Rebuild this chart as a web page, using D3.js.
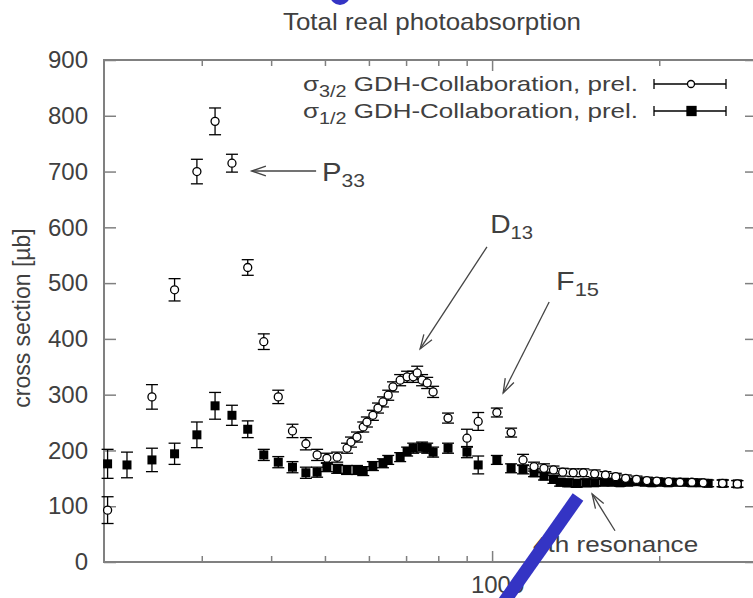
<!DOCTYPE html>
<html>
<head>
<meta charset="utf-8">
<script src="https://cdn.jsdelivr.net/npm/d3@7"></script>
<style>
  body { margin: 0; background: #fff; }
  svg { display: block; font-family: "Liberation Sans", Arial, sans-serif; }
</style>
</head>
<body>
<svg></svg>
<script>
// sigma 3/2 (open circles) - photon energy [MeV], cross section [ub], error
const energy32 = [203, 244, 268, 294, 317, 340, 363, 388, 412, 437, 462, 484, 504, 526, 548, 557, 571, 586, 595, 610,
  623, 636, 650, 663, 683, 703, 721, 733, 748, 764, 783, 833, 901, 944, 1020, 1082, 1137, 1190, 1240, 1290,
  1340, 1400, 1460, 1530, 1600, 1670, 1740, 1820, 1900, 1980, 2080, 2180, 2290, 2400, 2600, 2765];
const sigma32 = [93, 296, 488, 700, 790, 715, 528, 395, 296, 235, 212, 192, 186, 188, 204, 215, 224, 242, 251, 263,
  276, 287, 299, 314, 326, 332, 332, 339, 326, 321, 305, 258, 222, 252, 268, 232, 183, 171, 168, 165,
  161, 160, 160, 158, 156, 153, 150, 148, 146, 145, 144, 143, 143, 142, 141, 140];
const err32 = [24, 22, 20, 22, 24, 16, 14, 14, 12, 12, 11, 10, 9, 9, 9, 9, 9, 9, 9, 9,
  9, 9, 9, 9, 10, 10, 10, 12, 10, 10, 10, 9, 16, 16, 8, 8, 10, 8, 8, 7,
  7, 7, 7, 7, 6, 6, 6, 6, 6, 6, 6, 6, 6, 6, 6, 6];

// sigma 1/2 (filled squares)
const energy12 = [203, 220, 244, 268, 294, 317, 340, 363, 388, 412, 437, 462, 484, 504, 526, 548, 571, 586, 610, 636,
  650, 683, 703, 721, 748, 764, 783, 833, 901, 944, 1020, 1082, 1137, 1190, 1240, 1290, 1326, 1370, 1420, 1475,
  1530, 1590, 1645, 1700, 1760, 1820, 1880, 1940, 2010, 2075, 2145, 2220, 2290, 2370, 2450, 2605, 2765];
const sigma12 = [176, 174, 183, 194, 228, 280, 263, 238, 192, 179, 170, 160, 161, 170, 167, 165, 165, 163, 172, 177,
  183, 188, 198, 204, 206, 204, 197, 204, 197, 174, 183, 168, 166, 160, 154, 148, 143, 142, 141, 142,
  142, 143, 143, 142, 143, 144, 143, 142, 143, 142, 143, 143, 142, 142, 141, 141, 140];
const err12 = [26, 23, 21, 19, 23, 24, 18, 15, 10, 10, 10, 10, 9, 8, 8, 8, 8, 8, 8, 8,
  8, 8, 8, 9, 9, 9, 9, 9, 10, 16, 8, 8, 8, 7, 7, 7, 7, 7, 7, 7,
  6, 6, 6, 6, 6, 6, 6, 6, 6, 6, 6, 6, 6, 6, 6, 6, 6];

const yTicks = [0, 100, 200, 300, 400, 500, 600, 700, 800, 900];
const xMinorTicks = [300, 400, 500, 600, 700, 800, 900, 2000, 3000];
const xMajorTicks = [1000];

const width = 753;
const height = 598;
const plot = { left: 104, right: 757, top: 60, bottom: 562 };

const svg = d3.select("svg").attr("width", width).attr("height", height);

const xScale = d3.scaleLog().domain([200, 3000]).range([plot.left, plot.right]);
const yScale = d3.scaleLinear().domain([0, 900]).range([plot.bottom, plot.top]);

const points32 = energy32.map((e, i) => ({ e: e, v: sigma32[i], err: err32[i] }));
const points12 = energy12.map((e, i) => ({ e: e, v: sigma12[i], err: err12[i] }));

const textColor = "#404040";
const frameColor = "#808080";

function styleAxis(g) {
  g.select(".domain").remove();
  g.selectAll(".tick line").attr("stroke", frameColor).attr("stroke-width", 1.5);
  g.selectAll(".tick text").attr("fill", textColor).style("font-size", "24px")
    .style("font-family", "Liberation Sans, Arial, sans-serif");
}

function drawAxes() {
  svg.append("g")
    .attr("transform", `translate(${plot.left},0)`)
    .call(d3.axisLeft(yScale).tickValues(yTicks).tickSize(-12).tickPadding(16))
    .call(styleAxis);

  svg.append("g")
    .attr("transform", `translate(${plot.right},0)`)
    .call(d3.axisRight(yScale).tickValues(yTicks).tickSize(-12).tickFormat(""))
    .call(styleAxis);

  svg.append("g")
    .attr("transform", `translate(0,${plot.bottom})`)
    .call(d3.axisBottom(xScale).tickValues(xMinorTicks).tickSize(-6).tickFormat(""))
    .call(styleAxis);

  svg.append("g")
    .attr("transform", `translate(0,${plot.bottom})`)
    .call(d3.axisBottom(xScale).tickValues(xMajorTicks).tickSize(-11).tickPadding(14).tickFormat(d3.format("d")))
    .call(styleAxis)
    .selectAll(".tick text").attr("dx", 5);

  svg.append("g")
    .attr("transform", `translate(0,${plot.top})`)
    .call(d3.axisTop(xScale).tickValues(xMinorTicks).tickSize(-6).tickFormat(""))
    .call(styleAxis);

  svg.append("g")
    .attr("transform", `translate(0,${plot.top})`)
    .call(d3.axisTop(xScale).tickValues(xMajorTicks).tickSize(-11).tickFormat(""))
    .call(styleAxis);

  svg.append("rect")
    .attr("x", plot.left)
    .attr("y", plot.top)
    .attr("width", plot.right - plot.left)
    .attr("height", plot.bottom - plot.top)
    .attr("fill", "none")
    .attr("stroke", frameColor)
    .attr("stroke-width", 2);

  svg.append("text")
    .attr("x", 432)
    .attr("y", 30)
    .attr("text-anchor", "middle")
    .attr("fill", textColor)
    .attr("textLength", 298)
    .attr("lengthAdjust", "spacingAndGlyphs")
    .style("font-size", "24px")
    .text("Total real photoabsorption");

  svg.append("text")
    .attr("transform", "rotate(-90)")
    .attr("x", -318)
    .attr("y", 30)
    .attr("text-anchor", "middle")
    .attr("fill", textColor)
    .style("font-size", "23px")
    .text("cross section [\u00b5b]");
}

function drawErrorBars(data, cls) {
  const g = svg.append("g").attr("class", cls).attr("stroke", "#000").attr("stroke-width", 1.3);
  g.selectAll("line.bar")
    .data(data)
    .enter()
    .append("line")
    .attr("class", "bar")
    .attr("x1", (d) => xScale(d.e))
    .attr("x2", (d) => xScale(d.e))
    .attr("y1", (d) => yScale(d.v - d.err))
    .attr("y2", (d) => yScale(d.v + d.err));
  ["lo", "hi"].forEach((k) => {
    g.selectAll("line." + k)
      .data(data)
      .enter()
      .append("line")
      .attr("class", k)
      .attr("x1", (d) => xScale(d.e) - 6)
      .attr("x2", (d) => xScale(d.e) + 6)
      .attr("y1", (d) => yScale(k === "lo" ? d.v - d.err : d.v + d.err))
      .attr("y2", (d) => yScale(k === "lo" ? d.v - d.err : d.v + d.err));
  });
}

function drawPoints() {
  drawErrorBars(points12, "err12");
  drawErrorBars(points32, "err32");

  svg.append("g")
    .selectAll("rect")
    .data(points12)
    .enter()
    .append("rect")
    .attr("x", (d) => xScale(d.e) - 4.5)
    .attr("y", (d) => yScale(d.v) - 4.5)
    .attr("width", 9)
    .attr("height", 9)
    .attr("fill", "#000");

  svg.append("g")
    .selectAll("circle")
    .data(points32)
    .enter()
    .append("circle")
    .attr("cx", (d) => xScale(d.e))
    .attr("cy", (d) => yScale(d.v))
    .attr("r", 4)
    .attr("fill", "#fff")
    .attr("stroke", "#000")
    .attr("stroke-width", 1.3);
}

function drawLegend() {
  const rows = [
    { sub: "3/2", y: 84, filled: false },
    { sub: "1/2", y: 111, filled: true }
  ];
  rows.forEach((r) => {
    const t = svg.append("text")
      .attr("x", 638)
      .attr("y", r.y + 7)
      .attr("text-anchor", "end")
      .attr("fill", textColor)
      .attr("textLength", 335)
      .attr("lengthAdjust", "spacingAndGlyphs")
      .style("font-size", "21px");
    t.append("tspan").text("\u03c3");
    t.append("tspan").attr("dy", 6).style("font-size", "16px").text(r.sub);
    t.append("tspan").attr("dy", -6).text(" GDH-Collaboration, prel.");

    const g = svg.append("g").attr("stroke", "#000").attr("stroke-width", 1.3);
    g.append("line").attr("x1", 654).attr("x2", 726).attr("y1", r.y).attr("y2", r.y);
    g.append("line").attr("x1", 654).attr("x2", 654).attr("y1", r.y - 5).attr("y2", r.y + 5);
    g.append("line").attr("x1", 726).attr("x2", 726).attr("y1", r.y - 5).attr("y2", r.y + 5);
    if (r.filled) {
      g.append("rect").attr("x", 687).attr("y", r.y - 4.5).attr("width", 9).attr("height", 9).attr("fill", "#000");
    } else {
      g.append("circle").attr("cx", 691).attr("cy", r.y).attr("r", 3.5).attr("fill", "#fff");
    }
  });
}

// annotation anchors in data units
const labels = [
  { name: "P", sub: "33", e: 494, v: 683 },
  { name: "D", sub: "13", e: 992, v: 590 },
  { name: "F", sub: "15", e: 1304, v: 487 }
];
const arrows = [
  { e1: 482, v1: 701, e2: 369, v2: 701 },
  { e1: 979, v1: 565, e2: 742, v2: 382 },
  { e1: 1267, v1: 466, e2: 1047, v2: 303 },
  { e1: 1665, v1: 56, e2: 1514, v2: 122 }
];

function drawArrow(a) {
  const x1 = xScale(a.e1), y1 = yScale(a.v1), x2 = xScale(a.e2), y2 = yScale(a.v2);
  const ang = Math.atan2(y2 - y1, x2 - x1);
  const len = 15, spread = 0.33;
  const g = svg.append("g").attr("stroke", "#444").attr("stroke-width", 1.3).attr("fill", "none");
  g.append("line").attr("x1", x1).attr("y1", y1).attr("x2", x2).attr("y2", y2);
  g.append("path").attr("d",
    `M${x2 - len * Math.cos(ang - spread)},${y2 - len * Math.sin(ang - spread)}` +
    `L${x2},${y2}` +
    `L${x2 - len * Math.cos(ang + spread)},${y2 - len * Math.sin(ang + spread)}`);
}

function drawAnnotations() {
  labels.forEach((l) => {
    const t = svg.append("text")
      .attr("x", xScale(l.e))
      .attr("y", yScale(l.v))
      .attr("fill", textColor)
      .attr("textLength", 43)
      .attr("lengthAdjust", "spacingAndGlyphs")
      .style("font-size", "25px");
    t.append("tspan").text(l.name);
    t.append("tspan").attr("dy", 6).style("font-size", "18px").text(l.sub);
  });
  arrows.forEach(drawArrow);

  svg.append("text")
    .attr("x", xScale(2350))
    .attr("y", yScale(18))
    .attr("text-anchor", "end")
    .attr("fill", textColor)
    .attr("textLength", 165)
    .attr("lengthAdjust", "spacingAndGlyphs")
    .style("font-size", "22px")
    .text("4th resonance");
}

function drawMarkup() {
  // blue pen strokes on top of the picture
  svg.append("line")
    .attr("x1", 578).attr("y1", 497).attr("x2", 497).attr("y2", 612)
    .attr("stroke", "#3434c4").attr("stroke-width", 13);
  svg.append("circle")
    .attr("cx", 340).attr("cy", -5).attr("r", 10)
    .attr("fill", "#3434c4");
}

drawAxes();
drawPoints();
drawLegend();
drawAnnotations();
drawMarkup();
</script>
</body>
</html>
